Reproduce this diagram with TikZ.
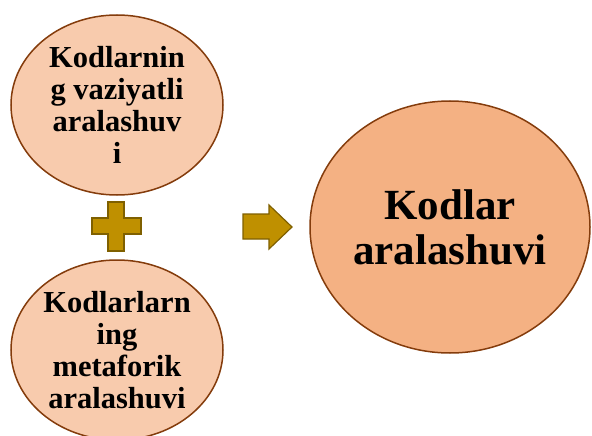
\documentclass[tikz,border=0pt]{standalone}
\usepackage{fontspec}
\setmainfont{Liberation Serif}
\usepackage{xcolor}
\usetikzlibrary{shapes.geometric}

\definecolor{peach}{HTML}{F8CBAD}
\definecolor{peachdark}{HTML}{F4B183}
\definecolor{rim}{HTML}{843C0C}
\definecolor{gold}{HTML}{BF9000}
\definecolor{golddark}{HTML}{7F6000}

\tikzset{
  part/.style={ellipse, draw=rim, line width=1.5pt, fill=peach,
    minimum width=212pt, minimum height=180pt, inner sep=0pt, align=center,
    font=\bfseries\fontsize{30.5}{32}\selectfont},
  whole/.style={part, fill=peachdark, minimum width=280pt, minimum height=252pt,
    font=\bfseries\fontsize{43}{45}\selectfont},
  sign/.style={draw=golddark, line width=1.2pt, fill=gold, line join=miter}
}

\begin{document}
\begin{tikzpicture}[x=1pt,y=-1pt]
\useasboundingbox (0,0) rectangle (592,436);

\node[part] (situ) at (117,105) {Kodlarnin\\g vaziyatli\\aralashuv\\i};
\node[part] (meta) at (117,350) {Kodlarlarn\\ing\\metaforik\\aralashuvi};
\node[whole] (mix) at (450,227) {Kodlar\\aralashuvi};

% plus sign
\draw[sign] (108,202) -- (124,202) -- (124,218) -- (141,218) -- (141,234)
  -- (124,234) -- (124,251) -- (108,251) -- (108,234) -- (92,234)
  -- (92,218) -- (108,218) -- cycle;

% block arrow
\draw[sign] (243,214) -- (269,214) -- (269,205) -- (292,227) -- (269,249)
  -- (269,239) -- (243,239) -- cycle;
\end{tikzpicture}
\end{document}
